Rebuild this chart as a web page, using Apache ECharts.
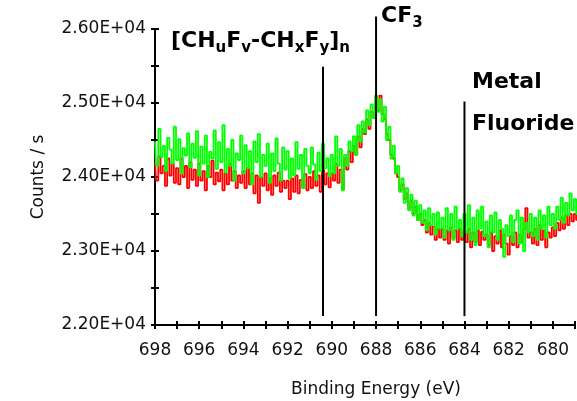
<!DOCTYPE html>
<html>
<head>
<meta charset="utf-8">
<script src="https://cdn.jsdelivr.net/npm/echarts@6/dist/echarts.min.js"></script>
<style>
  html, body { margin: 0; padding: 0; background: #fff; }
  #main { width: 577px; height: 401px; }
</style>
</head>
<body>
<div id="main"></div>
<script>
// binding energy grid: 698.0 eV down to 678.9 eV, 0.1 eV steps
var startEnergy = 698.0;
var stepEnergy = 0.1;

// counts per second, green scan
var greenCounts = [
  24480, 24150, 24650, 24270, 24420, 24080, 24530, 24370, 24180, 24680,
  24230, 24510, 24050, 24390, 24290, 24590, 24130, 24450, 24260, 24620,
  24020, 24410, 24180, 24560, 24000, 24340, 24250, 24630, 24110, 24470,
  24200, 24700, 24060, 24380, 24150, 24500, 23950, 24320, 24230, 24560,
  24050, 24430, 24120, 24350, 23900, 24480, 24200, 24580, 24000, 24300,
  24150, 24450, 23920, 24320, 24080, 24520, 24180, 23950, 24400, 24100,
  24350, 23980, 24250, 24020, 24470, 24110, 24300, 23850, 24380, 24150,
  24050, 24400, 24170, 23960, 24330, 24080, 24450, 24120, 24250, 24010,
  24300, 24050, 24550, 24150, 24380, 23820, 24300, 24150, 24480, 24350,
  24550, 24300, 24700, 24480, 24750, 24600, 24900, 24700, 24980, 24800,
  25100, 24880, 25050, 24750, 24950, 24500, 24680, 24250, 24420, 24050,
  24150, 23800, 23980, 23650, 23850, 23550, 23760, 23480, 23680, 23420,
  23620, 23380, 23550, 23280, 23580, 23350, 23500, 23220, 23520, 23300,
  23450, 23180, 23580, 23280, 23500, 23150, 23600, 23300, 23420, 23200,
  23500, 23250, 23620, 23150, 23450, 23080, 23550, 23300, 23600, 23200,
  23400, 23050, 23480, 23250, 23520, 23150, 23420, 23300, 22920, 23350,
  23200, 23480, 23120, 23420, 23550, 23100, 23450, 23000, 23380, 23250,
  23500, 23200, 23450, 23150, 23550, 23300, 23480, 23180, 23600, 23350,
  23500, 23300, 23600, 23420, 23720, 23380, 23650, 23480, 23780, 23550,
  23700, 23500
];

// counts per second, red scan
var redCounts = [
  24200, 23950, 24280, 24050, 24150, 23880, 24250, 24020, 24180, 23920,
  24120, 23900, 24250, 24000, 24150, 23850, 24200, 23960, 24100, 23880,
  24180, 23950, 24080, 23820, 24150, 24000, 24220, 23900, 24060, 23940,
  24100, 23820, 24050, 23900, 24180, 23950, 24080, 23850, 24020, 23920,
  24080, 23850, 24120, 23900, 24050, 23780, 24020, 23650, 24000, 23880,
  24050, 23820, 23980, 23760, 24020, 23880, 24060, 23800, 23950, 23850,
  23950, 23700, 23980, 23800, 24020, 23780, 23960, 23850, 24040, 23820,
  24000, 23850, 24080, 23880, 24020, 23800, 24100, 23900, 24050, 23860,
  24050, 23950, 24180, 23920, 24100, 23850, 24250, 24100, 24350, 24200,
  24420, 24300, 24550, 24400, 24650, 24580, 24780, 24650, 24880, 24800,
  25000, 24900, 25100, 24850, 24780, 24580, 24500, 24300, 24250, 24050,
  24000, 23820, 23900, 23700, 23780, 23580, 23680, 23500, 23600, 23420,
  23500, 23350, 23420, 23250, 23380, 23220, 23330, 23150, 23300, 23180,
  23300, 23150, 23280, 23100, 23320, 23180, 23280, 23120, 23300, 23150,
  23280, 23120, 23300, 23050, 23250, 23120, 23280, 23080, 23260, 23150,
  23220, 23080, 23250, 23000, 23200, 23100, 23280, 23050, 23220, 23100,
  22950, 23200, 23080, 23250, 23050, 23220, 23120, 23300, 23580, 23180,
  23250, 23100, 23300, 23080, 23350, 23150, 23280, 23050, 23250, 23180,
  23320, 23200, 23380, 23280, 23450, 23300, 23480, 23350, 23500, 23400,
  23500, 23420
];

// reference lines for the assigned species
var markerEnergy = [690.4, 688.0, 684.0];
var markerTop = [25490, 26170, 25020];
var markerBottom = 22120;

function toPairs(counts) {
  var out = [];
  for (var i = 0; i < counts.length; i++) {
    out.push([+(startEnergy - i * stepEnergy).toFixed(1), counts[i]]);
  }
  return out;
}

var FONT = 'DejaVu Sans';
var chart = echarts.init(document.getElementById('main'));

var series = [
  {
    name: 'red', type: 'line', data: toPairs(redCounts),
    showSymbol: false, step: 'middle',
    lineStyle: { color: '#ff0000', width: 1.8 },
    itemStyle: { color: '#ff0000' }, z: 2
  },
  {
    name: 'green', type: 'line', data: toPairs(greenCounts),
    showSymbol: false, step: 'middle',
    lineStyle: { color: '#00ff00', width: 1.8 },
    itemStyle: { color: '#00ff00' }, z: 3
  }
];
markerEnergy.forEach(function (e, i) {
  series.push({
    type: 'line', silent: true, clip: false, showSymbol: false, z: 5,
    data: [[e, markerBottom], [e, markerTop[i]]],
    lineStyle: { color: '#000', width: 2 }
  });
});

var subStyle = { fontSize: 15, fontWeight: 'bold', fontFamily: FONT, fill: '#000', padding: [14, 0, 0, 0] };

option = {
  animation: false,
  grid: { left: 155, right: 2, top: 29, bottom: 76, outerBoundsMode: 'none', containLabel: false },
  xAxis: [
    {
      type: 'value', inverse: true, min: 679, max: 698, interval: 1,
      name: 'Binding Energy (eV)', nameLocation: 'middle', nameGap: 56,
      nameTextStyle: { fontFamily: FONT, fontSize: 17, color: '#111', padding: [0, 0, 0, 22] },
      axisLine: { lineStyle: { color: '#000', width: 2 } },
      axisTick: { length: 4, lineStyle: { color: '#000', width: 2 } },
      axisLabel: {
        margin: 17, fontFamily: FONT, fontSize: 17, color: '#111',
        formatter: function (v) { return v % 2 === 0 ? String(v) : ''; }
      },
      splitLine: { show: false }
    },
    {
      type: 'value', inverse: true, min: 679, max: 698, interval: 1, position: 'bottom',
      axisLine: { show: false },
      axisTick: { inside: true, length: 4, lineStyle: { color: '#000', width: 2 } },
      axisLabel: { show: false }, splitLine: { show: false }
    }
  ],
  yAxis: [
    {
      type: 'value', min: 22000, max: 26000, interval: 500,
      name: 'Counts / s', nameLocation: 'middle', nameGap: 108,
      nameTextStyle: { fontFamily: FONT, fontSize: 17, color: '#111' },
      axisLine: { show: true, lineStyle: { color: '#000', width: 2 } },
      axisTick: { show: true, length: 4, lineStyle: { color: '#000', width: 2 } },
      axisLabel: {
        margin: 9, fontFamily: FONT, fontSize: 17, color: '#111',
        formatter: function (v) { return v % 1000 === 0 ? (v / 10000).toFixed(2) + 'E+04' : ''; }
      },
      splitLine: { show: false }
    },
    {
      type: 'value', min: 22000, max: 26000, interval: 500, position: 'left',
      axisLine: { show: false },
      axisTick: { show: true, inside: true, length: 4, lineStyle: { color: '#000', width: 2 } },
      axisLabel: { show: false }, splitLine: { show: false }
    }
  ],
  graphic: [
    {
      type: 'text', left: 171, top: 30, z: 10,
      style: {
        text: '[CH{s|u}F{s|v}-CH{s|x}F{s|y}]{s|n}',
        fontSize: 22, fontWeight: 'bold', fontFamily: FONT, fill: '#000',
        rich: { s: subStyle }
      }
    },
    {
      type: 'text', left: 381, top: 5, z: 10,
      style: {
        text: 'CF{s|3}',
        fontSize: 22, fontWeight: 'bold', fontFamily: FONT, fill: '#000',
        rich: { s: subStyle }
      }
    },
    {
      type: 'text', left: 472, top: 71, z: 10,
      style: { text: 'Metal', fontSize: 22, fontWeight: 'bold', fontFamily: FONT, fill: '#000' }
    },
    {
      type: 'text', left: 472, top: 113, z: 10,
      style: { text: 'Fluoride', fontSize: 22, fontWeight: 'bold', fontFamily: FONT, fill: '#000' }
    }
  ],
  series: series
};
chart.setOption(option);
</script>
</body>
</html>
